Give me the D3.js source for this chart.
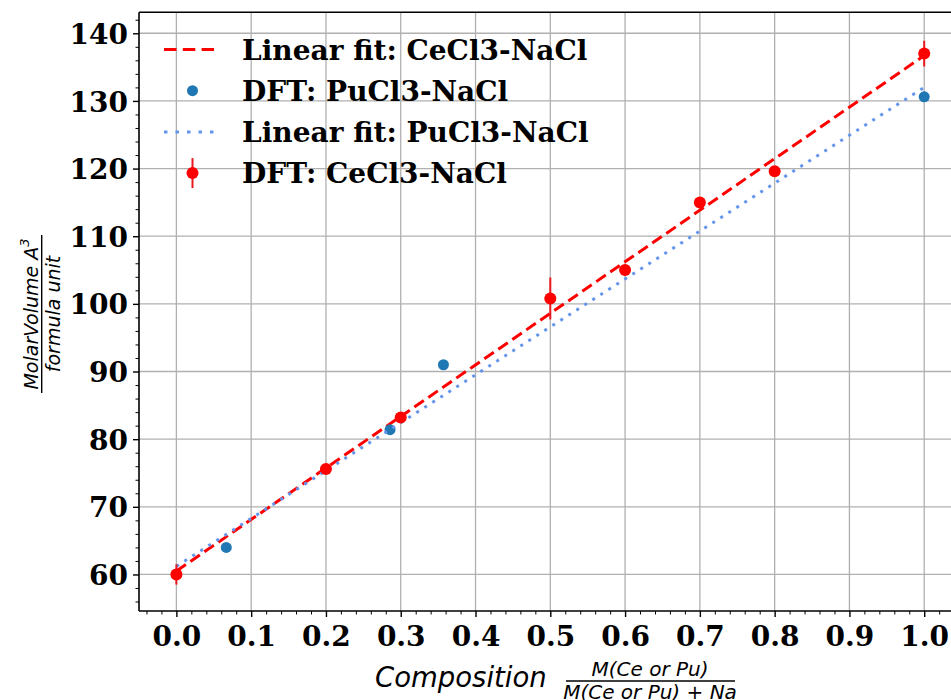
<!DOCTYPE html>
<html><head><meta charset="utf-8">
<script src="https://cdn.jsdelivr.net/npm/d3@7"></script>
<style>body{margin:0;background:#fff;overflow:hidden}</style>
</head><body>
<svg id="chart" width="951" height="700"></svg>
<script>
// ---- data ----
const xTickValues = [0.0,0.1,0.2,0.3,0.4,0.5,0.6,0.7,0.8,0.9,1.0];
const xTickLabels = ["0.0","0.1","0.2","0.3","0.4","0.5","0.6","0.7","0.8","0.9","1.0"];
const yTickValues = [60,70,80,90,100,110,120,130,140];
const yTickLabels = ["60","70","80","90","100","110","120","130","140"];

const ceX   = [0.0, 0.2, 0.3, 0.5, 0.6, 0.7, 0.8, 1.0];
const ceY   = [60.0, 75.6, 83.2, 100.8, 105.0, 115.0, 119.6, 137.0];
const ceErr = [1.5, 0.3, 0.3, 3.1, 0.4, 0.5, 0.3, 1.9];

const puX = [0.0, 0.0667, 0.2857, 0.3571, 1.0];
const puY = [60.0, 64.0, 81.4, 91.0, 130.6];

const ceFitX = [0.0, 1.0];
const ceFitY = [60.5, 136.7];
const puFitX = [0.0, 1.0];
const puFitY = [61.2, 132.0];

const legendLabels = ["Linear fit: CeCl3-NaCl","DFT: PuCl3-NaCl","Linear fit: PuCl3-NaCl","DFT: CeCl3-NaCl"];

// ---- layout ----
const svg = d3.select("#chart");
const L = 139, T = 12.3, B = 611, R = 961.6;
const x = d3.scaleLinear().domain([-0.05, 1.05]).range([L, R]);
const y = d3.scaleLinear().domain([54.6, 143.1]).range([B, T]);

const serif = "'DejaVu Serif', serif";
const sans = "'DejaVu Sans', sans-serif";
const FS = 28;

// grid
const grid = svg.append("g");
grid.selectAll("line.gx").data(xTickValues).join("line")
  .attr("x1", d => x(d)).attr("x2", d => x(d)).attr("y1", T).attr("y2", B)
  .attr("stroke", "#b0b0b0").attr("stroke-width", 1.3);
grid.selectAll("line.gy").data(yTickValues).join("line")
  .attr("y1", d => y(d)).attr("y2", d => y(d)).attr("x1", L).attr("x2", R)
  .attr("stroke", "#b0b0b0").attr("stroke-width", 1.3);

// axes
const xMinor = d3.range(-0.04, 1.05, 0.02).filter(v => Math.abs(Math.round(v*10) - v*10) > 1e-6);
const yMinor = d3.range(56, 143, 2).filter(v => v % 10 !== 0);

const xAxis = d3.axisBottom(x).tickValues(xTickValues).tickFormat((d,i) => xTickLabels[i]).tickSize(6).tickPadding(6);
const yAxis = d3.axisLeft(y).tickValues(yTickValues).tickFormat((d,i) => yTickLabels[i]).tickSize(6).tickPadding(5);

const gx = svg.append("g").attr("transform", `translate(0,${B})`).call(xAxis);
const gy = svg.append("g").attr("transform", `translate(${L},0)`).call(yAxis);
[gx, gy].forEach(g => {
  g.select(".domain").remove();
  g.selectAll(".tick line").attr("stroke", "#000").attr("stroke-width", 1.4);
  g.selectAll(".tick text").attr("font-family", serif).attr("font-weight", "bold")
    .attr("font-size", FS).attr("fill", "#000");
});
gx.selectAll(".tick text").attr("dy", null).attr("y", 34.5);
gy.selectAll(".tick text").attr("dy", "0.36em");

svg.append("g").attr("transform", `translate(0,${B})`)
  .call(d3.axisBottom(x).tickValues(xMinor).tickSize(3.5).tickFormat(""))
  .call(g => g.select(".domain").remove())
  .selectAll(".tick line").attr("stroke", "#000").attr("stroke-width", 1);
svg.append("g").attr("transform", `translate(${L},0)`)
  .call(d3.axisLeft(y).tickValues(yMinor).tickSize(3.5).tickFormat(""))
  .call(g => g.select(".domain").remove())
  .selectAll(".tick line").attr("stroke", "#000").attr("stroke-width", 1);

// spines
svg.append("line").attr("x1", L).attr("x2", L).attr("y1", T).attr("y2", B).attr("stroke", "#000").attr("stroke-width", 1.6);
svg.append("line").attr("x1", L).attr("x2", R).attr("y1", B).attr("y2", B).attr("stroke", "#000").attr("stroke-width", 1.6);
svg.append("line").attr("x1", L).attr("x2", R).attr("y1", T).attr("y2", T).attr("stroke", "#000").attr("stroke-width", 1.6);

// plot area
svg.append("clipPath").attr("id", "clip").append("rect").attr("x", L).attr("y", T).attr("width", R - L).attr("height", B - T);
const plot = svg.append("g").attr("clip-path", "url(#clip)");
const line = d3.line().x(d => x(d[0])).y(d => y(d[1]));

// fit CeCl3 (red dashed)
plot.append("path").datum(d3.zip(ceFitX, ceFitY)).attr("d", line)
  .attr("fill", "none").attr("stroke", "red").attr("stroke-width", 3).attr("stroke-dasharray", "11.5,5.5");
// DFT PuCl3 (blue points)
plot.selectAll("circle.pu").data(d3.zip(puX, puY)).join("circle")
  .attr("cx", d => x(d[0])).attr("cy", d => y(d[1])).attr("r", 5.5).attr("fill", "#1f77b4");
// fit PuCl3 (blue dotted)
plot.append("path").datum(d3.zip(puFitX, puFitY)).attr("d", line)
  .attr("fill", "none").attr("stroke", "#6495ed").attr("stroke-width", 3).attr("stroke-dasharray", "3,6.5");
// DFT CeCl3 with error bars
const ce = d3.zip(ceX, ceY, ceErr);
plot.selectAll("line.err").data(ce).join("line")
  .attr("x1", d => x(d[0])).attr("x2", d => x(d[0]))
  .attr("y1", d => y(d[1] - d[2])).attr("y2", d => y(d[1] + d[2]))
  .attr("stroke", "#e8191e").attr("stroke-width", 2);
plot.selectAll("circle.ce").data(ce).join("circle")
  .attr("cx", d => x(d[0])).attr("cy", d => y(d[1])).attr("r", 6).attr("fill", "red");

// legend
const lg = svg.append("g");
const rowBase = i => 59.5 + i * 41.2;
const hx0 = 164, hx1 = 214, hxc = 192.5;
legendLabels.forEach((t, i) => {
  lg.append("text").attr("x", 242).attr("y", rowBase(i)).text(t)
    .attr("font-family", serif).attr("font-weight", "bold").attr("font-size", FS).attr("fill", "#000");
});
const hy = i => rowBase(i) - 10;
lg.append("line").attr("x1", hx0).attr("x2", hx1).attr("y1", hy(0)).attr("y2", hy(0))
  .attr("stroke", "red").attr("stroke-width", 3).attr("stroke-dasharray", "12.5,6.3");
lg.append("circle").attr("cx", hxc).attr("cy", hy(1)).attr("r", 5.5).attr("fill", "#1f77b4");
lg.append("line").attr("x1", hx0).attr("x2", hx1 + 4).attr("y1", hy(2)).attr("y2", hy(2))
  .attr("stroke", "#6495ed").attr("stroke-width", 3).attr("stroke-dasharray", "3.5,8");
lg.append("line").attr("x1", hxc).attr("x2", hxc).attr("y1", hy(3) - 15).attr("y2", hy(3) + 15)
  .attr("stroke", "#e8191e").attr("stroke-width", 2);
lg.append("circle").attr("cx", hxc).attr("cy", hy(3)).attr("r", 6).attr("fill", "red");

// x label
const xl = svg.append("g");
xl.append("text").attr("x", 375).attr("y", 687).text("Composition")
  .attr("font-family", sans).attr("font-style", "italic").attr("font-size", 27.5).attr("fill", "#000");
xl.append("text").attr("x", 650).attr("y", 676).attr("text-anchor", "middle").text("M(Ce or Pu)")
  .attr("font-family", sans).attr("font-style", "italic").attr("font-size", 20).attr("fill", "#000");
xl.append("line").attr("x1", 566).attr("x2", 735).attr("y1", 681).attr("y2", 681).attr("stroke", "#000").attr("stroke-width", 1.4);
const den = xl.append("text").attr("x", 650).attr("y", 699).attr("text-anchor", "middle")
  .attr("font-family", sans).attr("font-size", 20).attr("fill", "#000");
den.append("tspan").attr("font-style", "italic").text("M(Ce or Pu)");
den.append("tspan").text(" + ");
den.append("tspan").attr("font-style", "italic").text("Na");

// y label
const yl = svg.append("g");
const num = yl.append("text").attr("transform", "translate(37.5,314) rotate(-90)").attr("text-anchor", "middle")
  .attr("font-family", sans).attr("font-style", "italic").attr("font-size", 19).attr("fill", "#000");
num.append("tspan").text("MolarVolume A");
num.append("tspan").attr("font-size", 13).attr("dy", -9).text("3");
yl.append("line").attr("x1", 41.7).attr("x2", 41.7).attr("y1", 235).attr("y2", 393).attr("stroke", "#000").attr("stroke-width", 1.4);
yl.append("text").attr("transform", "translate(60,314) rotate(-90)").attr("text-anchor", "middle")
  .attr("font-family", sans).attr("font-style", "italic").attr("font-size", 19).attr("fill", "#000")
  .text("formula unit");
</script>
</body></html>
